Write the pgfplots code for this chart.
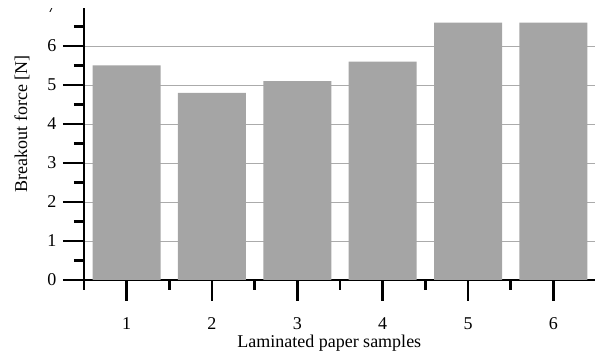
\documentclass[border=0pt]{standalone}
\usepackage{pgfplots}
\pgfplotsset{compat=1.18}
\usepackage{fontspec}
\setmainfont{Liberation Serif}
\definecolor{barg}{HTML}{A5A5A5}
\definecolor{gridg}{HTML}{ABABAB}
\begin{document}
\begin{tikzpicture}
\useasboundingbox (-84pt,-78pt) rectangle (511pt,280pt);
\clip (-84pt,-78pt) rectangle (511pt,271pt);
\begin{axis}[
  scale only axis,
  width=512pt, height=312pt,
  xmin=0.5, xmax=6.5, ymin=0, ymax=8,
  axis x line*=bottom, axis y line*=left,
  axis line style={line width=2.4pt},
  every tick/.style={black, line width=2.4pt},
  tick align=outside,
  major tick length=21pt, minor tick length=10pt,
  xtick={1,2,3,4,5,6},
  minor xtick={0.5,1.5,2.5,3.5,4.5,5.5,6.5},
  ytick={0,1,2,3,4,5,6,7,8},
  minor ytick={0.5,1.5,2.5,3.5,4.5,5.5,6.5,7.5},
  ymajorgrids,
  major grid style={gridg, line width=0.9pt},
  /pgf/number format/assume math mode=true,
  tick label style={font=\fontsize{18}{21}\selectfont},
  xticklabel style={yshift=-13pt},
  yticklabel style={xshift=-3pt},
  xlabel={Laminated paper samples},
  ylabel={Breakout force [N]},
  every axis x label/.style={at={(axis description cs:0.479,-0.202)}, anchor=center, font=\fontsize{18}{21}\selectfont},
  every axis y label/.style={at={(axis description cs:-0.121,0.5)}, anchor=center, rotate=90, font=\fontsize{18}{21}\selectfont},
  ybar, bar width=68pt,
]
\addplot[fill=barg, draw=none, bar shift=0pt] coordinates {(1,5.5) (2,4.8) (3,5.1) (4,5.6) (5,6.6) (6,6.6)};
\end{axis}
\end{tikzpicture}
\end{document}
